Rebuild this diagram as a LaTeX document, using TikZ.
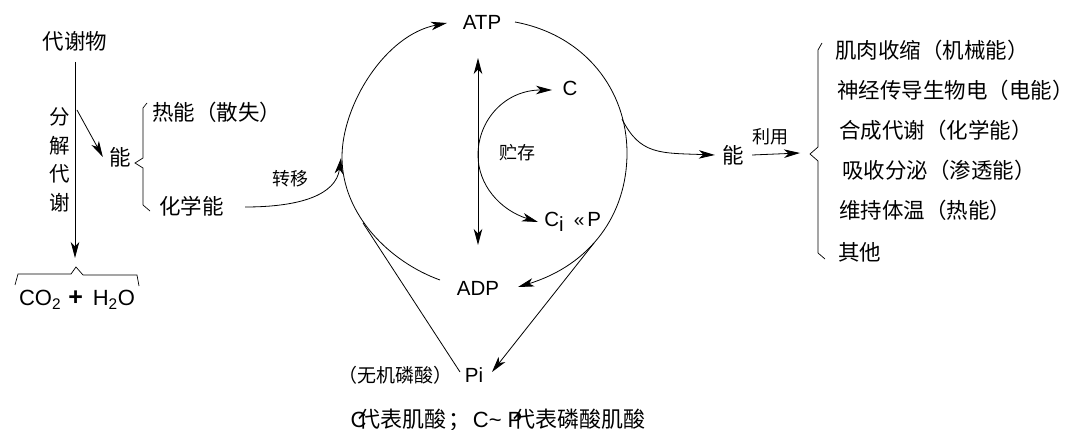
\documentclass[tikz,border=0pt]{standalone}
\usepackage{fontspec}
\setmainfont{Liberation Sans}
\newfontfamily\cjk{Noto Sans CJK SC}
\newcommand\zlp{\makebox[1em][r]{（}}
\newcommand\zrp{\makebox[1em][l]{）}}
\newcommand\zsc{\makebox[1.2em][c]{；}}
\usetikzlibrary{arrows.meta}
\begin{document}
\begin{tikzpicture}[x=1pt,y=-1pt,line width=0.8pt,
  mytip/.tip={Stealth[length=16pt,width=8.5pt,inset=4.5pt]},
  arr/.style={-mytip},
  darr/.style={mytip-mytip},
  cjkL/.style={font=\cjk\fontsize{21.5}{26}\selectfont,inner sep=0pt},
  cjkM/.style={font=\cjk\fontsize{19}{23}\selectfont,inner sep=0pt},
  cjkS/.style={font=\cjk\fontsize{18}{22}\selectfont,inner sep=0pt},
  latL/.style={font=\fontsize{20.5}{24}\selectfont,inner sep=0pt}]
\useasboundingbox (0,0) rectangle (1073,430);

% ---- left part
\node[cjkL] (met) at (75,41) {代谢物};
\node[cjkL,align=center,font=\cjk\fontsize{20.5}{28.5}\selectfont] (fj) at (60,160) {分\\解\\代\\谢};
\node[cjkL] (n1) at (120,157) {能};
\node[cjkL,anchor=west] (heat) at (152,112) {热能\zlp 散失\zrp};
\node[cjkL,anchor=west] (chem) at (159,206) {化学能};
\node[cjkS] (zy) at (290,179) {转移};
\node[latL,font=\fontsize{22}{26}\selectfont] (co2) at (77,300) {CO\textsubscript{2}\,\,{\fontsize{25}{26}\selectfont\textbf{+}}\ \,H\textsubscript{2}O};

\coordinate (mtop) at (75,62);
\coordinate (mend) at (75,258);
\draw[arr] (mtop) -- (mend);
\coordinate (fja) at (77,110);
\draw[arr] (fja) -- ([xshift=-6pt]n1.west);
% small brace
\draw[line width=0.7pt] (147,103) -- (143,108) -- (143,158) -- (135,163) -- (143,168) -- (143,205) -- (150,211);
% bottom brace
\draw[line width=0.7pt] (15,285) -- (18,274) -- (71,274) -- (76,267) -- (83,275) -- (137,275) -- (139,286);

% ---- cycle
\node[latL] (atp) at (482,22) {ATP};
\node[latL] (adp) at (478,288) {ADP};
\node[latL] (pi) at (474,375) {Pi};
\node[cjkM] (wj) at (395,375) {\zlp 无机磷酸\zrp};
\node[latL] (c) at (570,88) {C};
\node[latL,anchor=west] (cp) at (544,222) {C\raisebox{-5pt}{i}\hspace{10pt}{\fontsize{19}{20}\selectfont«}\hspace{3pt}P};
\node[cjkS] (zc) at (517,153) {贮存};

\coordinate (atpL) at (447,23);
\coordinate (atpR) at (515,22);
\coordinate (adpL) at (440,280);
\coordinate (adpR) at (518,287);
\coordinate (cL) at (342,157);
\coordinate (cR) at (627,153);
\coordinate (jL) at (363,223);
\coordinate (jR) at (594,243);
\coordinate (piL) at (460,372);
\coordinate (piR) at (492,372);

\draw[arr] (adpL) .. controls (390,262) and (342,215) .. (cL)
                  .. controls (342,105) and (385,35) .. (atpL);
\draw[arr] (atpR) .. controls (585,35) and (627,90) .. (cR)
                  .. controls (627,215) and (590,265) .. (adpR);
\draw (jL) -- (piL);
\draw[arr] (jR) -- (piR);
% transfer
\coordinate (trS) at (245,207);
\coordinate (trE) at (341,158);
\draw[arr] (trS) .. controls (300,207) and (336,195) .. (trE);
% vertical double arrow
\coordinate (vt) at (478,58);
\coordinate (vb) at (478,245);
\draw[darr,line width=0.9pt] (vt) -- (vb);
% storage arc
\coordinate (stB) at (538,222);
\coordinate (stT) at (552,90);
\draw[darr] (stB) .. controls (500,210) and (478,185) .. (478,155)
               .. controls (478,120) and (505,90) .. (stT);

% ---- right part
\node[cjkL] (n2) at (733,155) {能};
\node[cjkS] (ly) at (770,137) {利用};
\coordinate (utS) at (622,119);
\draw[arr] (utS) .. controls (640,155) and (660,153) .. ([xshift=-7pt]n2.west);
\coordinate (utE) at (800,153);
\draw[arr] ([xshift=8pt]n2.east) -- (utE);
% big brace
\draw[line width=0.7pt] (822,43) -- (818,50) -- (818,147) -- (810,154) -- (818,161) -- (818,253) -- (825,259);

\node[cjkL,anchor=west] (u1) at (835,50) {肌肉收缩\zlp 机械能\zrp};
\node[cjkL,anchor=west] (u2) at (837,90) {神经传导生物电\zlp 电能\zrp};
\node[cjkL,anchor=west] (u3) at (839,130) {合成代谢\zlp 化学能\zrp};
\node[cjkL,anchor=west] (u4) at (842,170) {吸收分泌\zlp 渗透能\zrp};
\node[cjkL,anchor=west] (u5) at (839,210) {维持体温\zlp 热能\zrp};
\node[cjkL,anchor=west] (u6) at (838,252) {其他};

% ---- note
\node[font=\cjk\fontsize{22}{24}\selectfont,inner sep=0pt] (note) at (498,420)
  {{\rmfamily C}\kern-8pt代表肌酸\zsc{\rmfamily C\textasciitilde\ P}\kern-9pt代表磷酸肌酸};
\end{tikzpicture}
\end{document}
